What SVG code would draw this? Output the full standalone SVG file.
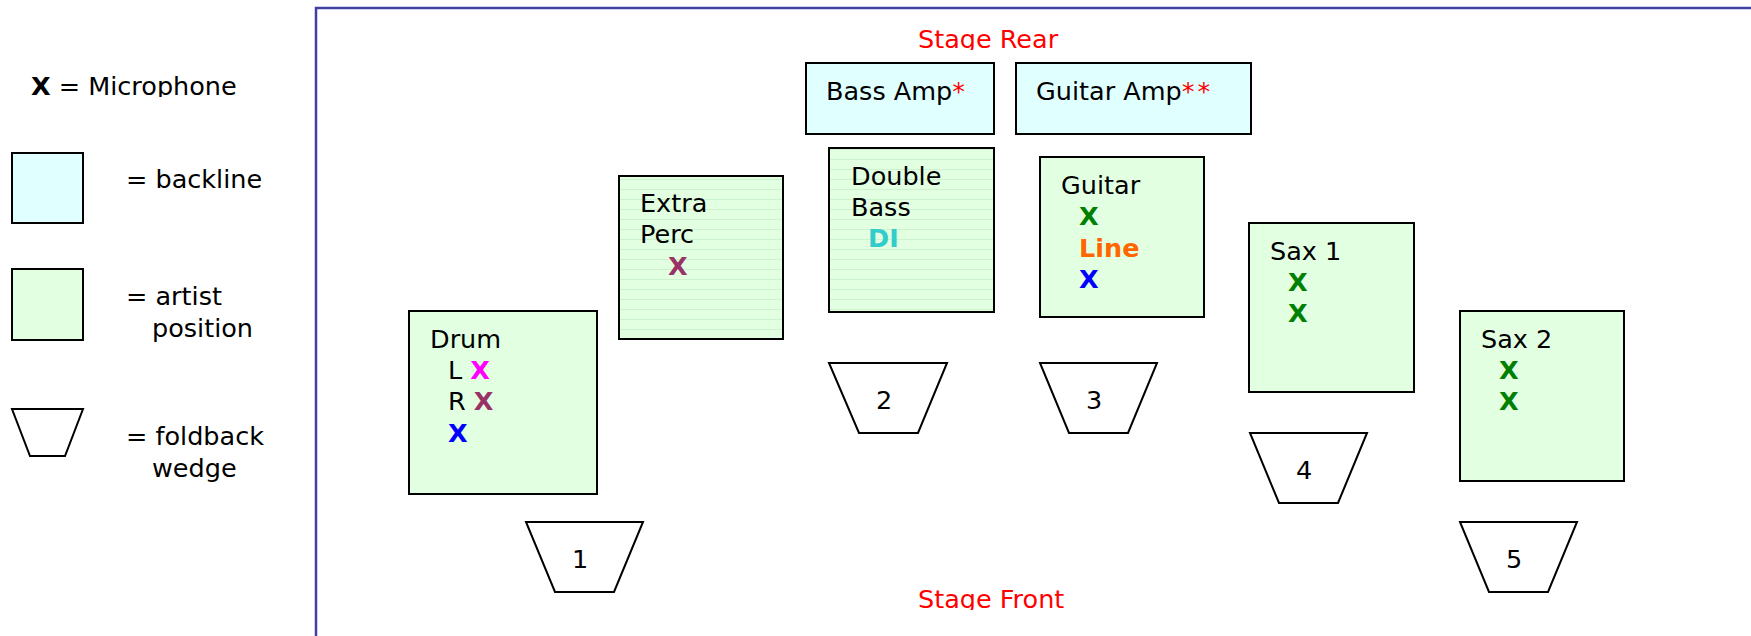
<svg xmlns="http://www.w3.org/2000/svg" width="1751" height="636" viewBox="0 0 1751 636">
<defs>
<style>
text{font-family:"DejaVu Sans","Verdana",sans-serif;font-size:25.5px;fill:#000}
.b{font-weight:bold}
.red{fill:#ff0000}
.g{fill:#008000}
.bl{fill:#0000ff}
.pu{fill:#993366}
.mg{fill:#ff00ff}
.backline{fill:#e0ffff;stroke:#000;stroke-width:2}
.artist{fill:#e2ffe2;stroke:#000;stroke-width:2}
.striped{fill:url(#stripes);stroke:#000;stroke-width:2}
.wedge{fill:#fff;stroke:#000;stroke-width:2;stroke-linejoin:miter}
.num{text-anchor:middle}
</style>
<pattern id="stripes" patternUnits="userSpaceOnUse" width="10" height="10">
<rect width="10" height="10" fill="#e2ffe2"/>
<rect y="9" width="10" height="1" fill="#cdf3cd"/>
</pattern>
<clipPath id="clipRear"><rect x="0" y="0" width="1751" height="50"/></clipPath>
<clipPath id="clipFront"><rect x="0" y="560" width="1751" height="50"/></clipPath>
<clipPath id="clipMic"><rect x="0" y="60" width="300" height="37"/></clipPath>
</defs>

<g id="stage">
<rect x="316" y="8" width="1460" height="660" fill="none" stroke="#4040a0" stroke-width="2.5"/>
<text class="red" x="918" y="48" clip-path="url(#clipRear)">Stage Rear</text>
<text class="red" x="918" y="608" clip-path="url(#clipFront)">Stage Front</text>
</g>

<g id="legend">
<g clip-path="url(#clipMic)"><text x="31" y="95"><tspan class="b">X</tspan> = Microphone</text></g>
<rect class="backline" x="12" y="153" width="71" height="70"/>
<text x="126" y="188">= backline</text>
<rect class="artist" x="12" y="269" width="71" height="71"/>
<text x="126" y="305">= artist</text>
<text x="152" y="337">position</text>
<polygon class="wedge" points="12,409 83,409 65,456 30,456"/>
<text x="126" y="445">= foldback</text>
<text x="152" y="477">wedge</text>
</g>

<g id="connectors"/>

<g id="bass-amp">
<rect class="backline" x="806" y="63" width="188" height="71"/>
<text x="826" y="100">Bass Amp<tspan class="red">*</tspan></text>
</g>

<g id="guitar-amp">
<rect class="backline" x="1016" y="63" width="235" height="71"/>
<text x="1036" y="100">Guitar Amp<tspan class="red" letter-spacing="3">**</tspan></text>
</g>

<g id="drum">
<rect class="artist" x="409" y="311" width="188" height="183"/>
<text x="430" y="348">Drum</text>
<text x="448" y="379">L <tspan class="b mg">X</tspan></text>
<text x="448" y="410">R <tspan class="b pu">X</tspan></text>
<text x="448" y="442" class="b bl">X</text>
</g>

<g id="extra-perc">
<rect class="striped" x="619" y="176" width="164" height="163"/>
<text x="640" y="212">Extra</text>
<text x="640" y="243">Perc</text>
<text x="668" y="275" class="b pu">X</text>
</g>

<g id="double-bass">
<rect class="striped" x="829" y="148" width="165" height="164"/>
<text x="851" y="185">Double</text>
<text x="851" y="216">Bass</text>
<text x="868" y="247" class="b" style="fill:#33cccc">DI</text>
</g>

<g id="guitar">
<rect class="artist" x="1040" y="157" width="164" height="160"/>
<text x="1061" y="194">Guitar</text>
<text x="1079" y="225" class="b g">X</text>
<text x="1079" y="257" class="b" style="fill:#ff6600">Line</text>
<text x="1079" y="288" class="b bl">X</text>
</g>

<g id="sax1">
<rect class="artist" x="1249" y="223" width="165" height="169"/>
<text x="1270" y="260">Sax 1</text>
<text x="1288" y="291" class="b g">X</text>
<text x="1288" y="322" class="b g">X</text>
</g>

<g id="sax2">
<rect class="artist" x="1460" y="311" width="164" height="170"/>
<text x="1481" y="348">Sax 2</text>
<text x="1499" y="379" class="b g">X</text>
<text x="1499" y="410" class="b g">X</text>
</g>

<g id="wedge1">
<polygon class="wedge" points="526,522 643,522 614,592 555,592"/>
<text class="num" x="580" y="568">1</text>
</g>
<g id="wedge2">
<polygon class="wedge" points="829,363 947,363 918,433 859,433"/>
<text class="num" x="884" y="409">2</text>
</g>
<g id="wedge3">
<polygon class="wedge" points="1040,363 1157,363 1128,433 1069,433"/>
<text class="num" x="1094" y="409">3</text>
</g>
<g id="wedge4">
<polygon class="wedge" points="1250,433 1367,433 1338,503 1279,503"/>
<text class="num" x="1304" y="479">4</text>
</g>
<g id="wedge5">
<polygon class="wedge" points="1460,522 1577,522 1548,592 1489,592"/>
<text class="num" x="1514" y="568">5</text>
</g>
</svg>
